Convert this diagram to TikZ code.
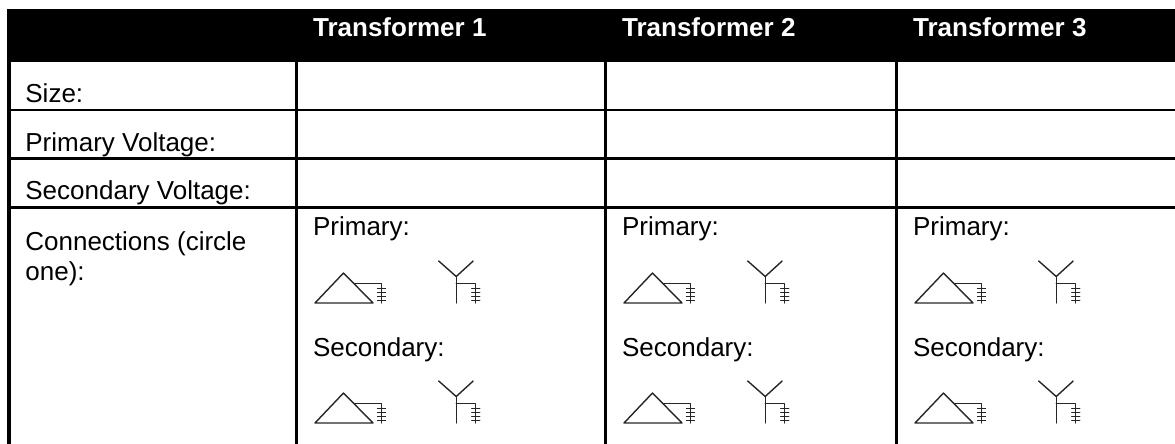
\documentclass[tikz,border=0pt]{standalone}
\usepackage{fontspec}
\setmainfont{Liberation Sans}
\begin{document}
\begin{tikzpicture}[x=0.5pt,y=-0.5pt,
  lbl/.style={anchor=base west,inner sep=0pt,font=\fontsize{13pt}{15pt}\selectfont},
  hdr/.style={lbl,text=white,font=\fontsize{13pt}{15pt}\selectfont\bfseries},
  gridline/.style={line width=1.4pt},
  icon/.style={line width=0.7pt,line cap=round,line join=round,draw=black!85},
  delta/.pic={
    \draw[icon] (0,0) -- (28.5,-30) -- (58,0) -- cycle;
    \draw[icon] (38.8,-19.5) -- (66.5,-19.5) -- (66.5,0);
    \foreach \t in {-14.5,-10.5,-6.5,-2.5} \draw[icon] (62.5,\t) -- (70.5,\t);
  },
  wye/.pic={
    \draw[icon] (-17.5,-42) -- (0,-26.5) -- (17,-42);
    \draw[icon] (0,-26.5) -- (0,0);
    \draw[icon] (0,-19.7) -- (19.5,-19.7) -- (19.5,0);
    \foreach \t in {-14.5,-10.5,-6.5,-2.5} \draw[icon] (15.5,\t) -- (23.5,\t);
  }]
\useasboundingbox (0,0) rectangle (1175,444);
\begin{scope}
\clip (0,0) rectangle (1175,444);
% header band
\fill[black] (7,9) rectangle (1175,62);
% left border
\draw[line width=2pt] (9,9) -- (9,444);
% row lines
\foreach \yy in {110,158.7,207.4} \draw[gridline] (9,\yy) -- (1175,\yy);
% column lines
\foreach \xx in {296.7,605.7,896.7} \draw[gridline] (\xx,62) -- (\xx,444);
\end{scope}
% header texts
\foreach \xx/\n in {296.7/1,605.7/2,896.7/3}{
  \node[hdr] (h\n) at (\xx+16,37) {Transformer \n};
  \node[lbl] (p\n) at (\xx+16,236) {Primary:};
  \node[lbl] (s\n) at (\xx+16,357) {Secondary:};
  \pic at (\xx+18.3,303) {delta};
  \pic at (\xx+159.5,303) {wye};
  \pic at (\xx+18.3,423) {delta};
  \pic at (\xx+159.5,423) {wye};
}
% row labels
\node[lbl] (size) at (25,103) {Size:};
\node[lbl] (pv) at (25,151.5) {Primary Voltage:};
\node[lbl] (sv) at (25,200) {Secondary Voltage:};
\node[lbl] (conn) at (25,250.5) {Connections (circle};
\node[lbl] (one) at (25,280.5) {one):};
\end{tikzpicture}
\end{document}
